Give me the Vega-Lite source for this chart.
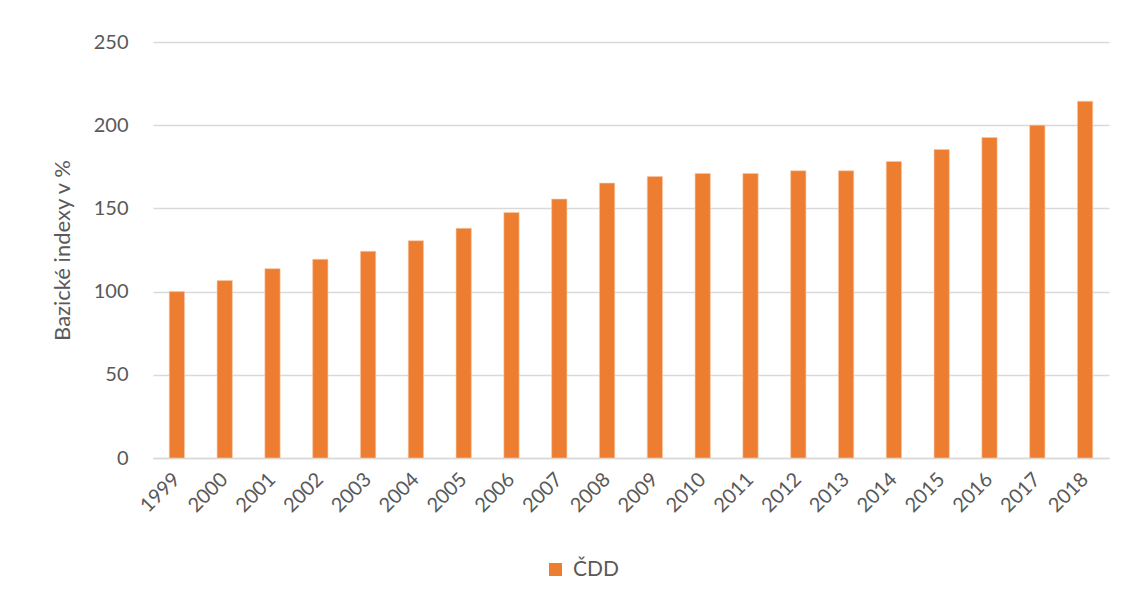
{
  "$schema": "https://vega.github.io/schema/vega-lite/v6.json",
  "width": 956,
  "height": 416,
  "autosize": "none",
  "padding": {"left": 153, "top": 42, "right": 27, "bottom": 151},
  "background": "white",
  "data": {
    "values": [
      {"rok": "1999", "index": 100, "serie": "ČDD"},
      {"rok": "2000", "index": 106.6, "serie": "ČDD"},
      {"rok": "2001", "index": 113.8, "serie": "ČDD"},
      {"rok": "2002", "index": 119.4, "serie": "ČDD"},
      {"rok": "2003", "index": 124.2, "serie": "ČDD"},
      {"rok": "2004", "index": 130.6, "serie": "ČDD"},
      {"rok": "2005", "index": 138, "serie": "ČDD"},
      {"rok": "2006", "index": 147.6, "serie": "ČDD"},
      {"rok": "2007", "index": 155.6, "serie": "ČDD"},
      {"rok": "2008", "index": 165.2, "serie": "ČDD"},
      {"rok": "2009", "index": 169.2, "serie": "ČDD"},
      {"rok": "2010", "index": 171, "serie": "ČDD"},
      {"rok": "2011", "index": 171, "serie": "ČDD"},
      {"rok": "2012", "index": 172.6, "serie": "ČDD"},
      {"rok": "2013", "index": 172.6, "serie": "ČDD"},
      {"rok": "2014", "index": 178.2, "serie": "ČDD"},
      {"rok": "2015", "index": 185.4, "serie": "ČDD"},
      {"rok": "2016", "index": 192.6, "serie": "ČDD"},
      {"rok": "2017", "index": 200, "serie": "ČDD"},
      {"rok": "2018", "index": 214.4, "serie": "ČDD"}
    ]
  },
  "mark": {"type": "bar", "stroke": "#f8c9a6", "strokeWidth": 0.6},
  "encoding": {
    "x": {
      "field": "rok",
      "type": "ordinal",
      "scale": {"paddingInner": 0.68, "paddingOuter": 0.34},
      "axis": {
        "title": null,
        "labelAngle": -45,
        "labelAlign": "right",
        "labelBaseline": "middle",
        "labelPadding": 18,
        "ticks": false,
        "domainColor": "#d9d9d9",
        "domainWidth": 1.5,
        "grid": false
      }
    },
    "y": {
      "field": "index",
      "type": "quantitative",
      "scale": {"domain": [0, 250], "nice": false},
      "axis": {
        "title": "Bazické indexy v %",
        "titleFontSize": 22,
        "titleFontWeight": "normal",
        "titleColor": "#595959",
        "titlePadding": 19,
        "values": [0, 50, 100, 150, 200, 250],
        "ticks": false,
        "domain": false,
        "labelPadding": 25,
        "gridColor": "#d9d9d9",
        "gridWidth": 1.5
      }
    },
    "color": {
      "field": "serie",
      "type": "nominal",
      "scale": {"range": ["#ED7D31"]},
      "legend": {
        "title": null,
        "orient": "none",
        "legendX": 392,
        "legendY": 517,
        "symbolType": "square",
        "symbolSize": 169,
        "symbolStrokeWidth": 0,
        "labelFontSize": 21,
        "labelColor": "#595959",
        "labelOffset": 7
      }
    }
  },
  "config": {
    "font": "Lato",
    "view": {"stroke": null},
    "axis": {
      "labelFont": "Lato",
      "labelFontSize": 20,
      "labelColor": "#595959",
      "titleFont": "Lato"
    },
    "legend": {"labelFont": "Lato"}
  }
}
